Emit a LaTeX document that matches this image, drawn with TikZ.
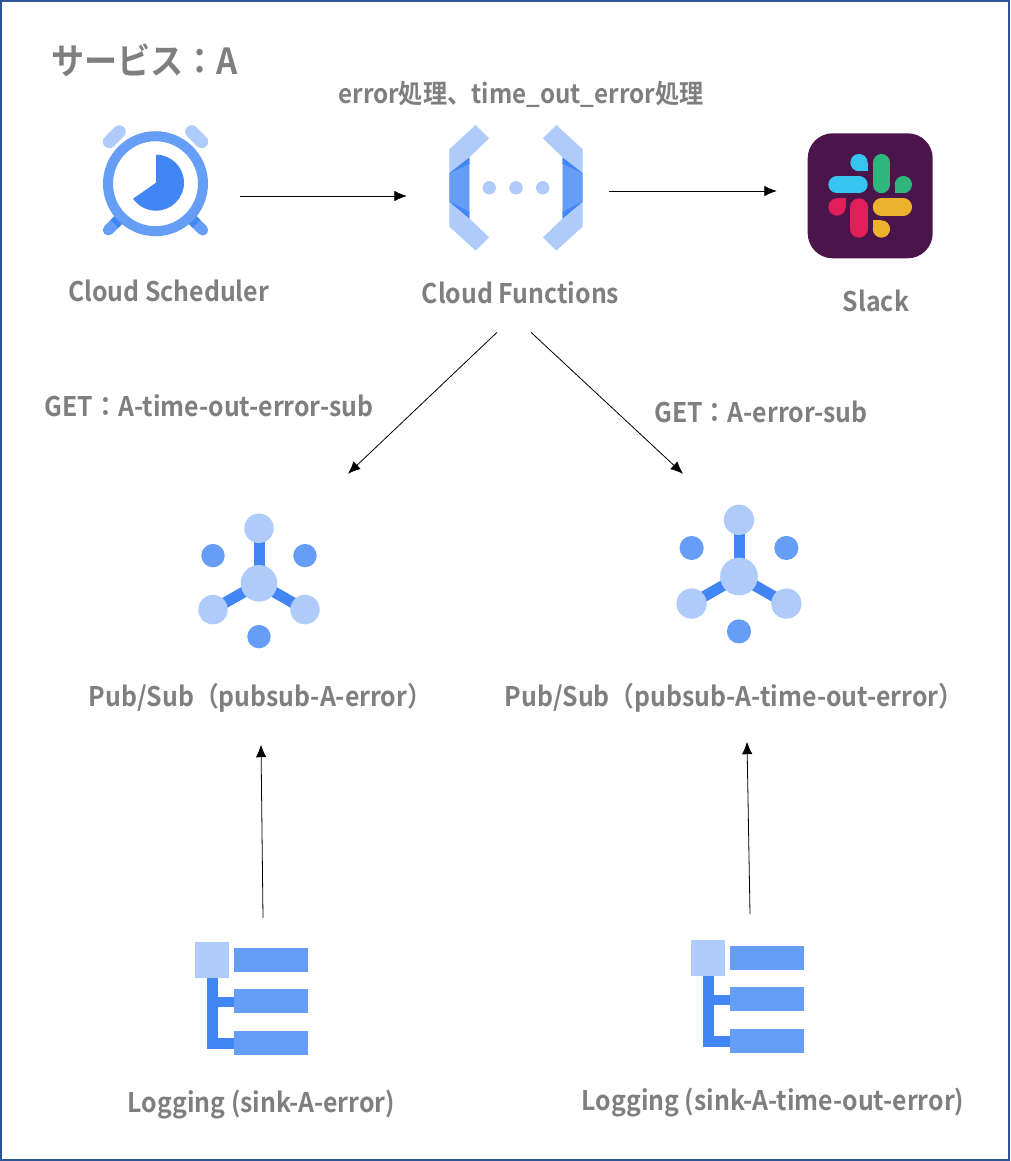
\documentclass[tikz,border=0pt]{standalone}
\usepackage{fontspec}
\newfontfamily\jpfont[FakeStretch=0.92]{Noto Sans CJK JP Bold}
\usetikzlibrary{arrows.meta, calc, positioning}

\definecolor{gcplight}{HTML}{AECBFA}
\definecolor{gcpmid}{HTML}{669DF6}
\definecolor{gcpdark}{HTML}{4285F4}
\definecolor{framecol}{HTML}{2F5597}
\definecolor{labelcol}{HTML}{7F7F7F}
\definecolor{slackbg}{HTML}{4A154B}

\tikzset{
    labeltext/.style={font=\jpfont\fontsize{27}{32}\selectfont, text=labelcol, inner sep=0pt},
    iconbox/.style={inner sep=0pt, minimum width=#1, minimum height=#1},
    flowarrow/.style={-{Latex[length=12.5pt,width=10.5pt]}, line width=0.8pt, black},
    schedulericon/.pic={
        \draw[gcplight, line width=13pt, line cap=round] (-46.2,-42) -- (-36.2,-52);
        \draw[gcplight, line width=13pt, line cap=round] (46.2,-42) -- (36.2,-52);
        \draw[gcpmid, line width=11pt, line cap=round] (-47.2,46.3) -- (-38.8,38);
        \draw[gcpmid, line width=11pt, line cap=round] (47.2,46.3) -- (38.8,38);
        \draw[gcpdark, line width=11pt] (-41,40.2) -- (-36,35.2);
        \draw[gcpdark, line width=11pt] (41,40.2) -- (36,35.2);
        \draw[gcpmid, line width=10pt, fill=white] (0,0) circle[radius=47.5];
        \fill[gcpdark] (0.5,-1) -- ++(-90:28) arc[start angle=-90, end angle=145, radius=28] -- cycle;
    },
    functionsicon/.pic={
        \foreach \s in {-1,1} {
            \begin{scope}[xscale=\s]
                \fill[gcplight] (-66.7,-38.5) -- (-40.3,-62.8) -- (-27,-49.5) -- (-46.7,-30.2) -- (-46.7,30.5)
                    -- (-27,49.5) -- (-40.3,62.8) -- (-66.7,38.8) -- cycle;
                \fill[gcpmid] (-66.7,-14.5) -- (-46.7,-30.2) -- (-46.7,30.5) -- (-66.7,13.8) -- cycle;
                \fill[gcpdark] (-66.7,-14.5) -- (-46.7,-30.2) -- (-46.7,-24) -- cycle;
                \fill[gcpdark] (-66.7,13.8) -- (-46.7,30.5) -- (-46.7,24) -- cycle;
            \end{scope}
        }
        \foreach \dx in {-26.7,0,26.7}
            \fill[gcplight] (\dx,0) circle[radius=6.7];
    },
    slackicon/.pic={
        \fill[slackbg, rounded corners=25pt] (-62.5,-62.5) rectangle (62.5,62.5);
        \foreach \i/\c in {0/36C5F0,1/2EB67D,2/ECB22E,3/E01E5A} {
            \definecolor{slackpart}{HTML}{\c}
            \begin{scope}[rotate=-90*\i]
                \draw[slackpart, line width=17.3pt, line cap=round] (-33.2,-11.2) -- (-11.2,-11.2);
                \fill[slackpart] (-11.2,-33.2) circle[radius=8.65];
                \fill[slackpart] (-11.2,-33.2) rectangle (-2.5,-24.5);
            \end{scope}
        }
    },
    pubsubicon/.pic={
        \draw[gcpdark, line width=11pt] (0,0) -- (0,-55);
        \draw[gcpdark, line width=11pt] (0,0) -- (-46,26.3);
        \draw[gcpdark, line width=11pt] (0,0) -- (46,26.3);
        \foreach \px/\py in {-46/-27.7,46/-27.7,0/53.3}
            \fill[gcpmid] (\px,\py) circle[radius=11.7];
        \foreach \px/\py in {0/-55,-46/26.3,46/26.3}
            \fill[gcplight] (\px,\py) circle[radius=14.7];
        \fill[gcplight] (0,0) circle[radius=18.3];
    },
    loggingicon/.pic={
        \fill[gcpdark] (-45,-21) rectangle (-34,50);
        \fill[gcpdark] (-34,-2) rectangle (-17,8);
        \fill[gcpdark] (-45,39) rectangle (-17,50);
        \fill[gcplight] (-56.6,-56.2) rectangle (-22.6,-20.8);
        \foreach \ty in {-50.2,-9.2,32.2}
            \fill[gcpmid] (-17.3,\ty) rectangle (56.7,\ty+24);
    }
}

\begin{document}
\begin{tikzpicture}[x=1pt, y=-1pt]
    \useasboundingbox (0,0) rectangle (1010,1161);
    \draw[framecol, line width=2pt, fill=white] (1,1) rectangle (1009,1160);

    % Icons
    \node (scheduler) [iconbox=106pt] at (155.5,183.7) {};
    \node (functions) [iconbox=126pt] at (516,187.8) {};
    \node (slack) [iconbox=125pt] at (870.2,195.8) {};
    \node (pubsuberror) [iconbox=120pt] at (259,583.3) {};
    \node (pubsubtimeout) [iconbox=120pt] at (739,576.5) {};
    \node (sinkerror) [iconbox=114pt] at (251.6,998.5) {};
    \node (sinktimeout) [iconbox=114pt] at (747.6,996.5) {};

    \pic at (scheduler) {schedulericon};
    \pic at (functions) {functionsicon};
    \pic at (slack) {slackicon};
    \pic at (pubsuberror) {pubsubicon};
    \pic[scale=1.03] at (pubsubtimeout) {pubsubicon};
    \pic at (sinkerror) {loggingicon};
    \pic at (sinktimeout) {loggingicon};

    % Labels
    \node (service) [labeltext, anchor=west, font=\jpfont\fontsize{36}{42}\selectfont] at (51,60) {サービス：A};
    \node (errortask) [labeltext, font=\jpfont\fontsize{26.3}{31}\selectfont] at (521,94) {error処理、time\_out\_error処理};
    \node (schedulerlabel) [labeltext] at (168.5,291) {Cloud Scheduler};
    \node (functionslabel) [labeltext] at (520.5,293) {Cloud Functions};
    \node (slacklabel) [labeltext] at (876,301) {Slack};
    \node (gettimeout) [labeltext] at (209,406) {GET：A-time-out-error-sub};
    \node (geterror) [labeltext] at (761,412) {GET：A-error-sub};
    \node (pubsuberrorlabel) [labeltext] at (260.5,697.5) {Pub/Sub（pubsub-A-error）};
    \node (pubsubtimeoutlabel) [labeltext] at (734,697.5) {Pub/Sub（pubsub-A-time-out-error）};
    \node (sinkerrorlabel) [labeltext] at (261.5,1105) {Logging (sink-A-error)};
    \node (sinktimeoutlabel) [labeltext] at (773,1103) {Logging (sink-A-time-out-error)};

    % Arrows
    \draw[flowarrow] ($(scheduler.east)+(31.5,12.3)$) -- ($(functions.west)+(-46,8.2)$);
    \draw[flowarrow] ($(functions.east)+(30,3.2)$) -- ($(slack.west)+(-30.7,-4.8)$);
    \draw[flowarrow] (functionslabel.south) ++(-23.5,28) -- ($(pubsuberror.north)+(89,-49.3)$);
    \draw[flowarrow] (functionslabel.south) ++(10.5,28) -- ($(pubsubtimeout.north)+(-56,-42.5)$);
    \draw[flowarrow] ($(sinkerror.north)+(11.4,-23.5)$) -- ($(pubsuberrorlabel.south)+(0.5,32.5)$);
    \draw[flowarrow] ($(sinktimeout.north)+(2.4,-25.5)$) -- ($(pubsubtimeoutlabel.south)+(13,29.5)$);
\end{tikzpicture}
\end{document}
